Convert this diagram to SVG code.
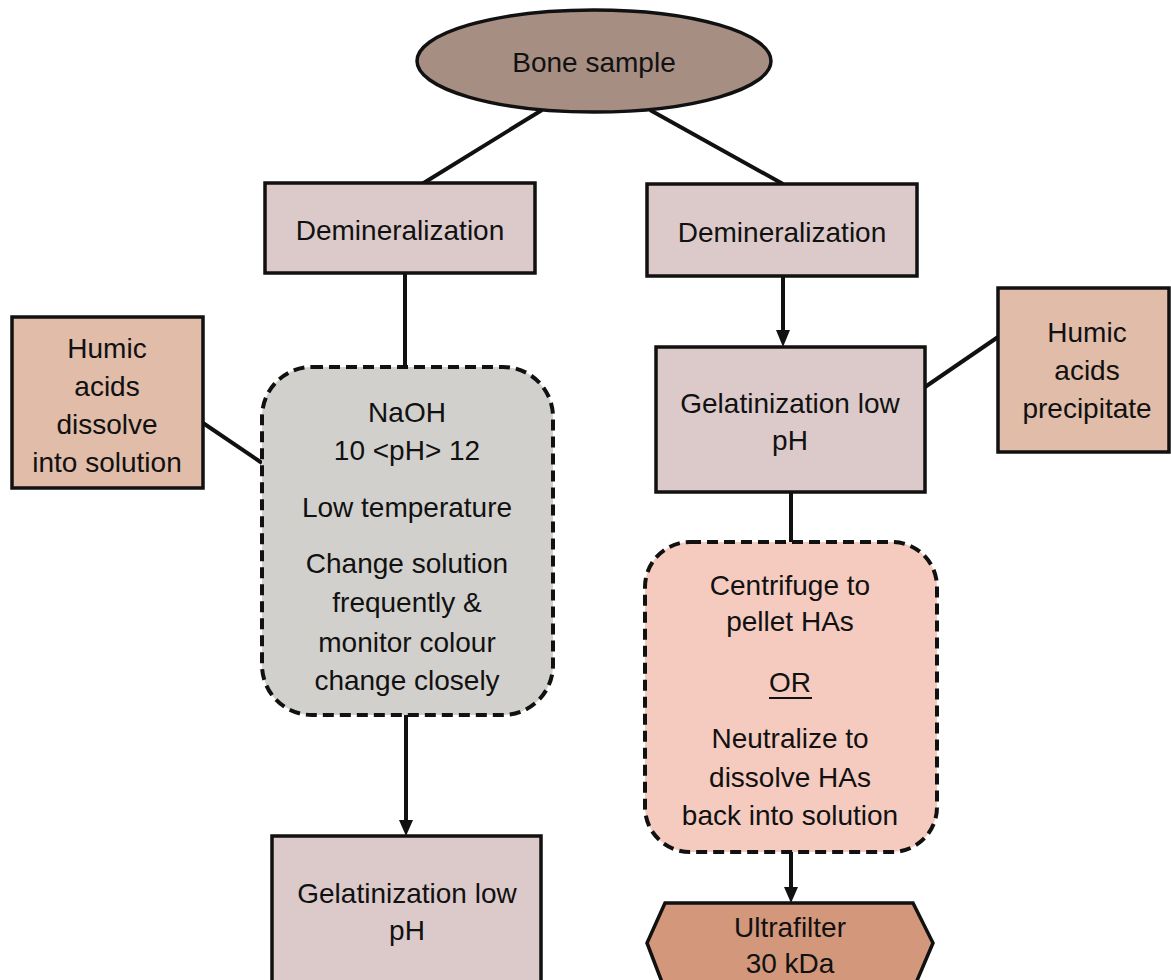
<svg xmlns="http://www.w3.org/2000/svg" width="1171" height="980" viewBox="0 0 1171 980">
<style>
text{font-family:"Liberation Sans",Arial,sans-serif;font-size:28px;fill:#111;text-anchor:middle}
.box{stroke:#111;stroke-width:3.5}
.dash{stroke:#111;stroke-width:4;stroke-dasharray:11 6}
.ln{stroke:#111;stroke-width:4;fill:none}
</style>
<defs>
<marker id="ah" markerUnits="userSpaceOnUse" markerWidth="14" markerHeight="16" refX="7" refY="15" orient="auto-start-reverse" viewBox="0 0 14 16">
<path d="M0,0 L14,0 L7,16 Z" fill="#111"/>
</marker>
</defs>
<rect width="1171" height="980" fill="#fff"/>
<g id="connectors">
<line class="ln" x1="542" y1="110" x2="422" y2="184"/>
<line class="ln" x1="650" y1="110" x2="783" y2="184"/>
<line class="ln" x1="405" y1="273" x2="405" y2="367"/>
<line class="ln" x1="203" y1="423" x2="262" y2="463"/>
<line class="ln" x1="406" y1="715" x2="406" y2="822"/>
<path d="M399,820 L413,820 L406,836 Z" fill="#111"/>
<line class="ln" x1="783" y1="276" x2="783" y2="332"/>
<path d="M776,330 L790,330 L783,347 Z" fill="#111"/>
<line class="ln" x1="925" y1="387" x2="998" y2="337"/>
<line class="ln" x1="791" y1="492" x2="791" y2="542"/>
<line class="ln" x1="791" y1="852" x2="791" y2="889"/>
<path d="M784,887 L798,887 L791,903 Z" fill="#111"/>
</g>
<g id="bone">
<ellipse class="box" cx="594" cy="61" rx="177" ry="51" fill="#a78e83"/>
<text x="594" y="72">Bone sample</text>
</g>
<g id="demin-left">
<rect class="box" x="265" y="183" width="270" height="90" fill="#dccaca"/>
<text x="400" y="240">Demineralization</text>
</g>
<g id="demin-right">
<rect class="box" x="647" y="184" width="270" height="92" fill="#dccaca"/>
<text x="782" y="242">Demineralization</text>
</g>
<g id="humic-left">
<rect class="box" x="12" y="317" width="191" height="171" fill="#e0bca9"/>
<text x="107" y="358">Humic</text>
<text x="107" y="396">acids</text>
<text x="107" y="434">dissolve</text>
<text x="107" y="472">into solution</text>
</g>
<g id="naoh">
<rect class="dash" x="262" y="367" width="291" height="348" rx="50" fill="#d1d0cc"/>
<text x="407" y="422">NaOH</text>
<text x="407" y="460">10 &lt;pH&gt; 12</text>
<text x="407" y="517">Low temperature</text>
<text x="407" y="573">Change solution</text>
<text x="407" y="612">frequently &amp;</text>
<text x="407" y="652">monitor colour</text>
<text x="407" y="690">change closely</text>
</g>
<g id="gel-left">
<rect class="box" x="272" y="836" width="269" height="170" fill="#dccaca"/>
<text x="407" y="903">Gelatinization low</text>
<text x="407" y="940">pH</text>
</g>
<g id="gel-right">
<rect class="box" x="656" y="347" width="269" height="145" fill="#dccaca"/>
<text x="790" y="413">Gelatinization low</text>
<text x="790" y="450">pH</text>
</g>
<g id="humic-right">
<rect class="box" x="998" y="288" width="171" height="164" fill="#e0bca9"/>
<text x="1087" y="342">Humic</text>
<text x="1087" y="380">acids</text>
<text x="1087" y="418">precipitate</text>
</g>
<g id="centrifuge">
<rect class="dash" x="645" y="542" width="292" height="310" rx="45" fill="#f5cbc0"/>
<text x="790" y="595">Centrifuge to</text>
<text x="790" y="631">pellet HAs</text>
<text x="790" y="692">OR</text>
<line x1="769" y1="698" x2="812" y2="698" stroke="#111" stroke-width="2"/>
<text x="790" y="748">Neutralize to</text>
<text x="790" y="787">dissolve HAs</text>
<text x="790" y="825">back into solution</text>
</g>
<g id="ultrafilter">
<polygon class="box" points="665,903 913,903 933,943 913,990 665,990 647,943" fill="#d3987b"/>
<text x="790" y="937">Ultrafilter</text>
<text x="790" y="973">30 kDa</text>
</g>
</svg>
